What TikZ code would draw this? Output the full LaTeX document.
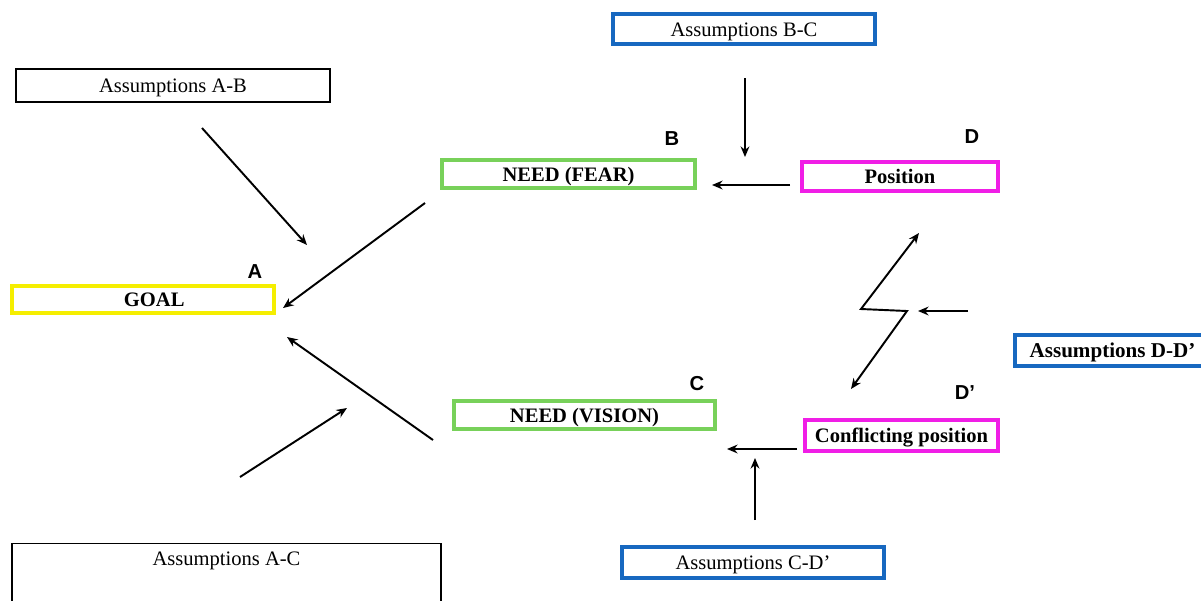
\documentclass[tikz,border=0pt]{standalone}
\usepackage{fontspec}
\setmainfont{Liberation Serif}
\newfontfamily\tagfont{Liberation Sans}
\usetikzlibrary{arrows.meta,positioning}
\definecolor{GoalYellow}{HTML}{F5EE00}
\definecolor{NeedGreen}{HTML}{78D15A}
\definecolor{PosMagenta}{HTML}{F01EE6}
\definecolor{AssumBlue}{HTML}{1768C0}
\tikzset{
  % Base box
  BX/.style={rectangle,draw,inner sep=0pt,text centered,
             text height=2ex,text depth=0.2ex,
             font=\fontsize{11.7}{14}\selectfont},
  % Box variants
  aT/.style={BX,draw=black,line width=0.7pt},
  aB/.style={BX,draw=AssumBlue,line width=2.3pt},
  nY/.style={BX,draw=GoalYellow,line width=2.3pt,font=\fontsize{11.7}{14}\selectfont\bfseries},
  nG/.style={BX,draw=NeedGreen,line width=2.3pt,font=\fontsize{11.7}{14}\selectfont\bfseries},
  nM/.style={BX,draw=PosMagenta,line width=2.3pt,font=\fontsize{11.7}{14}\selectfont\bfseries},
  % Corner letters
  tag/.style={font=\fontsize{11.5}{13}\tagfont\bfseries},
  % Arrows
  arr/.style={-{Stealth[length=6pt,width=5pt]},line width=1.1pt},
  arrboth/.style={{Stealth[length=6pt,width=5pt]}-{Stealth[length=6pt,width=5pt]},line width=1.1pt}
}
\begin{document}
\begin{tikzpicture}[x=0.02cm,y=-0.02cm]
  \useasboundingbox (0,0) rectangle (1201,600);

  \node[aT,minimum width=6.28cm,minimum height=0.66cm] (asAB)   at (173,85.5)   {Assumptions A-B};
  \node[aB,minimum width=5.24cm,minimum height=0.6cm]  (asBC)   at (744,29)     {Assumptions B-C};
  \node[nY,minimum width=5.24cm,minimum height=0.54cm] (goal)   at (143,299.5)  {\hspace{0.45cm}GOAL};
  \node[nG,minimum width=5.06cm,minimum height=0.56cm] (fear)   at (568.5,174)  {NEED (FEAR)};
  \node[nM,minimum width=3.92cm,minimum height=0.58cm] (pos)    at (900,176.5)  {Position};
  \node[nG,minimum width=5.22cm,minimum height=0.56cm] (vision) at (584.5,415)  {NEED (VISION)};
  \node[nM,minimum width=3.86cm,minimum height=0.62cm] (conf)   at (901.5,435.5){Conflicting position};
  \node[aB,minimum width=3.9cm,minimum height=0.62cm,anchor=west,
        font=\fontsize{12}{14}\selectfont\bfseries]   (asDD)   at (1013,350.5) {Assumptions D-D’};
  \node[aT,minimum width=8.58cm,anchor=north,
        text height=0.44cm,text depth=0.9cm]          (asAC)   at (226.5,543)  {Assumptions A-C};
  \node[aB,minimum width=5.24cm,minimum height=0.62cm] (asCD)   at (753,562.5)  {Assumptions C-D’};

  \node[tag] (tA)  at (255,272) {A};
  \node[tag] (tB)  at (672,139) {B};
  \node[tag] (tC)  at (697,384) {C};
  \node[tag] (tD)  at (972,137) {D};
  \node[tag] (tD2) at (965,393) {D’};

  % free arrow ends
  \coordinate (abS) at (202,128); \coordinate (abE) at (307,245);
  \coordinate (fgS) at (425,203); \coordinate (fgE) at (283,308);
  \coordinate (vgS) at (433,440); \coordinate (vgE) at (287,337);
  \coordinate (acS) at (240,477); \coordinate (acE) at (347,408);
  \coordinate (bcS) at (745,78);  \coordinate (bcE) at (745,157);
  \coordinate (pfS) at (790,185); \coordinate (pfE) at (712,185);
  \coordinate (ddS) at (968,311); \coordinate (ddE) at (918,311);
  \coordinate (cvS) at (797,449); \coordinate (cvE) at (727,449);
  \coordinate (cdS) at (755,520); \coordinate (cdE) at (755,458);
  \coordinate (zBot) at (851,389); \coordinate (zR) at (907,311);
  \coordinate (zL) at (861,309);   \coordinate (zTop) at (919,233);

  \draw[arr](abS)--(abE);
  \draw[arr](fgS)--(fgE);
  \draw[arr](vgS)--(vgE);
  \draw[arr](acS)--(acE);
  \draw[arr](bcS)--(bcE);
  \draw[arr](pfS)--(pfE);
  \draw[arr](ddS)--(ddE);
  \draw[arr](cvS)--(cvE);
  \draw[arr](cdS)--(cdE);
  \draw[arrboth](zBot)--(zR)--(zL)--(zTop);
\end{tikzpicture}
\end{document}
